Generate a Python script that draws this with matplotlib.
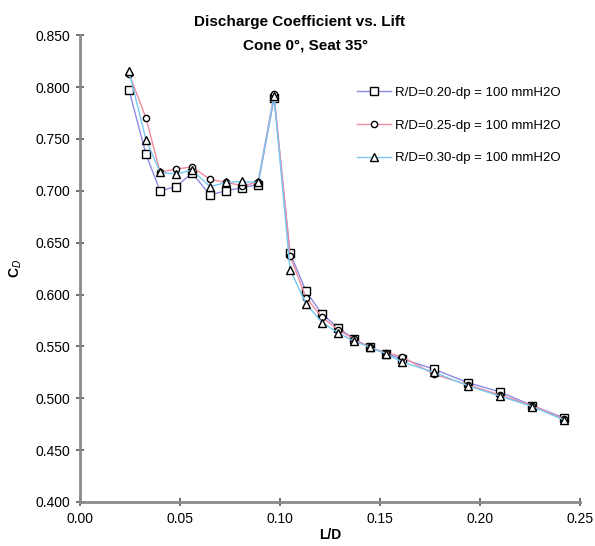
import matplotlib
matplotlib.use("Agg")
import matplotlib.pyplot as plt
from matplotlib.ticker import FormatStrFormatter

plt.rcParams["font.family"] = ["Liberation Sans", "DejaVu Sans"]

# L/D lift positions (shared by all three series)
lift = [0.0245, 0.033, 0.040, 0.048, 0.056, 0.065, 0.073, 0.081, 0.089, 0.097,
        0.105, 0.113, 0.121, 0.129, 0.137, 0.145, 0.153, 0.161, 0.177, 0.194,
        0.210, 0.226, 0.242]

cd_020 = [0.797, 0.735, 0.700, 0.704, 0.717, 0.696, 0.700, 0.703, 0.706, 0.789,
          0.640, 0.603, 0.581, 0.568, 0.557, 0.549, 0.543, 0.538, 0.528, 0.515,
          0.506, 0.493, 0.481]
cd_025 = [0.813, 0.770, 0.718, 0.721, 0.723, 0.711, 0.708, 0.705, 0.708, 0.793,
          0.637, 0.597, 0.578, 0.566, 0.557, 0.549, 0.544, 0.540, 0.523, 0.513,
          0.503, 0.493, 0.480]
cd_030 = [0.815, 0.749, 0.718, 0.716, 0.720, 0.704, 0.708, 0.709, 0.708, 0.791,
          0.624, 0.591, 0.573, 0.563, 0.555, 0.549, 0.543, 0.535, 0.525, 0.512,
          0.502, 0.492, 0.479]

labels = ["R/D=0.20-dp = 100 mmH2O",
          "R/D=0.25-dp = 100 mmH2O",
          "R/D=0.30-dp = 100 mmH2O"]

fig = plt.figure(figsize=(5.95, 5.46), dpi=100)
ax = fig.add_axes([0.1345, 0.0806, 0.8405, 0.855])

styles = [("#8c8ce6", "s", 6), ("#f08ca0", "o", 4.5), ("#78c8f0", "^", 6)]
for series, lab, (col, mk, ms) in zip([cd_020, cd_025, cd_030], labels, styles):
    ax.plot(lift, series, color=col, lw=1.0, marker=mk, ms=ms,
            mfc="white", mec="black", mew=1.0, label=lab)

ax.set_xlim(0, 0.25)
ax.set_ylim(0.4, 0.85)
ax.set_xticks([0, 0.05, 0.10, 0.15, 0.20, 0.25])
ax.set_yticks([0.40, 0.45, 0.50, 0.55, 0.60, 0.65, 0.70, 0.75, 0.80, 0.85])
ax.xaxis.set_major_formatter(FormatStrFormatter("%.2f"))
ax.yaxis.set_major_formatter(FormatStrFormatter("%.3f"))

for side in ["top", "right"]:
    ax.spines[side].set_visible(False)
for side in ["left", "bottom"]:
    ax.spines[side].set_color("#8a8a8a")
    ax.spines[side].set_linewidth(2)
ax.tick_params(direction="inout", length=6, width=1.2, color="#555555",
               labelsize=10, pad=4)

ax.set_xlabel("L/D", fontsize=10, fontweight="bold", labelpad=2)
ax.set_ylabel("C$_D$", fontsize=10, fontweight="bold", labelpad=8)

fig.text(0.504, 0.96, "Discharge Coefficient vs. Lift", ha="center", va="center",
         fontsize=11, fontweight="bold")
fig.text(0.514, 0.917, "Cone 0°, Seat 35°", ha="center", va="center",
         fontsize=11, fontweight="bold")

ax.legend(loc="upper left", bbox_to_anchor=(0.53, 0.915), frameon=False,
          fontsize=9.5, handlelength=2.6, labelspacing=1.55, handletextpad=0.3)

fig.savefig("out.png", dpi=100)
